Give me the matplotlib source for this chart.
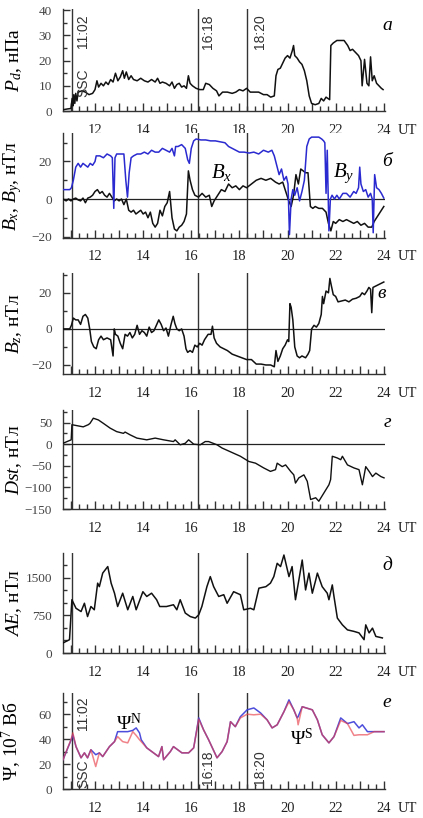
import matplotlib
matplotlib.use("Agg")
import matplotlib.pyplot as plt
from matplotlib.ticker import MultipleLocator, FuncFormatter
import matplotlib.transforms as mtransforms

plt.rcParams['font.family'] = ['Liberation Serif', 'DejaVu Serif']
plt.rcParams['mathtext.fontset'] = 'custom'
plt.rcParams['mathtext.rm'] = 'Liberation Serif'
plt.rcParams['mathtext.it'] = 'Liberation Serif:italic'

# ---------------- data (hours UT) ----------------
t_pd = [10.67, 10.85, 11.0, 11.05, 11.08, 11.12, 11.16, 11.2, 11.25, 11.3,
        11.45, 11.6, 11.75, 11.9, 12.0, 12.08, 12.15, 12.25, 12.35, 12.45,
        12.55, 12.65, 12.75, 12.85, 12.95, 13.05, 13.15, 13.22, 13.3, 13.4,
        13.5, 13.6, 13.75, 13.9, 14.05, 14.2, 14.35, 14.5, 14.6, 14.7,
        14.8, 14.95, 15.1, 15.2, 15.3, 15.4, 15.5, 15.6, 15.7, 15.8,
        15.88, 15.95, 16.05, 16.2, 16.35, 16.5, 16.6, 16.75, 16.9, 17.05,
        17.15, 17.3, 17.5, 17.7, 17.85, 18.0, 18.15, 18.3, 18.45, 18.6,
        18.8, 19.0, 19.15, 19.3, 19.45, 19.52, 19.6, 19.7, 19.8, 19.9,
        20.0, 20.1, 20.2, 20.25, 20.3, 20.4, 20.5, 20.6, 20.7, 20.8,
        20.9, 21.0, 21.15, 21.3, 21.4, 21.5, 21.6, 21.75, 21.8, 21.9,
        22.05, 22.2, 22.35, 22.5, 22.6, 22.7, 22.85, 22.95, 23.05, 23.1,
        23.2, 23.3, 23.38, 23.45, 23.52, 23.6, 23.7, 23.8, 23.9, 23.97]
v_pd = [0.5, 0.8, 1.0, 5.0, 2.0, 6.5, 3.0, 7.0, 4.0, 7.5,
        8.0, 7.5, 6.5, 7.0, 8.5, 12.0, 9.5, 11.0, 10.0, 11.5,
        10.5, 12.5, 11.5, 15.0, 12.0, 13.5, 16.0, 13.0, 15.5, 12.5,
        14.0, 12.5, 12.0, 13.0, 12.0, 11.5, 12.5, 11.5, 13.0, 11.0,
        11.5, 11.0, 10.0, 11.5, 9.0, 10.5, 11.0, 9.5, 10.0, 9.0,
        14.0, 11.0, 10.0, 9.0, 8.5, 8.5, 11.0, 10.5, 9.0, 8.0,
        6.0, 7.5, 7.5, 7.0, 7.5, 8.5, 8.0, 9.0, 7.5, 7.5,
        7.5, 6.5, 6.5, 5.5, 6.0, 14.0, 16.5, 17.0, 19.0, 21.0,
        22.0, 21.0, 24.0, 26.0, 22.0, 21.0, 19.5, 18.5, 16.0, 12.0,
        6.0, 3.0, 2.5, 3.0, 5.0, 4.0, 5.5, 4.5, 26.0, 27.0,
        28.0, 28.0, 28.0, 26.0, 24.0, 24.5, 23.0, 22.0, 20.0, 10.0,
        20.5, 11.0, 10.0, 21.5, 12.0, 14.0, 11.0, 10.0, 9.0, 8.5]

t_by = [10.67, 10.95, 11.02, 11.1, 11.2, 11.3, 11.4, 11.5, 11.6, 11.7,
        11.8, 11.9, 12.0, 12.05, 12.2, 12.35, 12.5, 12.65, 12.72, 12.78,
        12.83, 12.9, 13.0, 13.1, 13.2, 13.28, 13.35, 13.42, 13.5, 13.6,
        13.75, 13.9, 14.05, 14.2, 14.35, 14.5, 14.65, 14.8, 14.95, 15.1,
        15.2, 15.3, 15.35, 15.45, 15.6, 15.75, 15.85, 15.92, 16.0, 16.1,
        16.2, 16.4, 16.6, 16.8, 17.0, 17.2, 17.4, 17.55, 17.7, 17.85,
        18.0, 18.2, 18.4, 18.6, 18.8, 19.0, 19.2, 19.35, 19.45, 19.55,
        19.65, 19.75, 19.85, 19.95, 20.02, 20.08, 20.15, 20.22, 20.3, 20.4,
        20.5, 20.6, 20.7, 20.8, 20.9, 21.0, 21.15, 21.3, 21.42, 21.5,
        21.55, 21.6, 21.65, 21.72, 21.78, 21.85, 21.95, 22.05, 22.15, 22.3,
        22.45, 22.6, 22.75, 22.85, 22.95, 23.0, 23.05, 23.15, 23.25, 23.35,
        23.45, 23.52, 23.56, 23.62, 23.7, 23.8, 23.9, 24.0]
v_by = [5, 5, 6, 10, 17, 19, 17, 19, 18, 17,
        19, 18, 20, 23, 23, 22, 24, 23, 22, -5,
        22, 24, 24, 24, 24, 10, 1, 14, 22, 23,
        24, 24, 25, 24, 26, 25, 25, 27, 26, 25,
        27, 23, 28, 28, 29, 27, 21, 19, 27, 31,
        32, 31.5, 31.5, 31, 31, 30.5, 30, 28, 27, 26,
        25, 25, 24.5, 25, 24, 26, 25, 26, 23, 18,
        13, 16, 10, 12, 8, -19, 0, 5, 2, 6,
        -1, 4, 10, 28, 32, 33, 33, 33, 32, 31,
        30, 3, 26, -17, 0, 2, 0, 2, 0, 3,
        3, 1, 4, 3, 6, 17, 8, 4, 5, 1,
        3, 0, -18, 13, 6, 5, 3, 0.5]

t_bx = [10.67, 10.8, 10.9, 11.0, 11.1, 11.2, 11.3, 11.4, 11.5, 11.6,
        11.7, 11.8, 11.9, 12.0, 12.1, 12.2, 12.3, 12.4, 12.5, 12.6,
        12.7, 12.8, 12.9, 13.0, 13.1, 13.2, 13.3, 13.4, 13.5, 13.6,
        13.7, 13.8, 13.9, 14.0, 14.1, 14.2, 14.3, 14.4, 14.5, 14.6,
        14.7, 14.8, 14.9, 15.0, 15.1, 15.2, 15.3, 15.4, 15.5, 15.6,
        15.7, 15.8, 15.88, 15.95, 16.05, 16.15, 16.3, 16.45, 16.6, 16.75,
        16.85, 16.95, 17.1, 17.25, 17.4, 17.55, 17.7, 17.85, 18.0, 18.15,
        18.3, 18.5, 18.7, 18.9, 19.1, 19.3, 19.5, 19.65, 19.8, 19.95,
        20.05, 20.15, 20.25, 20.35, 20.45, 20.55, 20.65, 20.75, 20.85, 20.95,
        21.05, 21.15, 21.3, 21.45, 21.6, 21.7, 21.8, 21.9, 22.0, 22.15,
        22.3, 22.45, 22.6, 22.75, 22.9, 23.05, 23.2, 23.35, 23.5, 23.6,
        23.7, 23.8, 23.9, 24.0]
v_bx = [0, -1, 0, -1, 0, 0.5, -0.5, -1, 0.5, -2,
        0.5, 1, 2, 4, 5, 3, 4, 2, 1, 3,
        1, -1, 0, -1, 0, -3, 0, -6, -7, -6,
        -8, -7, -6, -8, -7, -10, -7, -13, -15, -13,
        -6, -9, -4, -2, 4, -10, -16, -17, -15, -14,
        -12, -8, 15, 10, 5, 2, 1, 3, 1, 2,
        -4, -1, 2, 5, 4, 8, 6, 7, 5, 7,
        6, 8, 10, 11, 10, 11, 9, 8, 9, 3,
        -1, -4, 2, 13, 8, 16, 15, 14, 14, -4,
        -5, -4, -5, -5, -7, -13, -17, -12, -13, -11,
        -12, -11, -12, -13, -12, -14, -13, -15, -15, -12,
        -10, -8, -6, -4]

t_bz = [10.67, 10.95, 11.02, 11.1, 11.2, 11.3, 11.4, 11.5, 11.6, 11.7,
        11.78, 11.85, 11.95, 12.05, 12.15, 12.25, 12.35, 12.5, 12.65, 12.75,
        12.8, 12.85, 12.95, 13.05, 13.15, 13.25, 13.35, 13.45, 13.55, 13.65,
        13.75, 13.85, 13.95, 14.05, 14.15, 14.25, 14.35, 14.45, 14.55, 14.65,
        14.75, 14.85, 14.95, 15.05, 15.15, 15.25, 15.32, 15.4, 15.5, 15.6,
        15.7, 15.78, 15.85, 15.95, 16.05, 16.15, 16.25, 16.35, 16.45, 16.55,
        16.7, 16.82, 16.88, 16.95, 17.05, 17.2, 17.35, 17.5, 17.7, 17.9,
        18.1, 18.3, 18.5, 18.7, 18.9, 19.1, 19.3, 19.45, 19.52, 19.6,
        19.7, 19.8, 19.9, 20.0, 20.05, 20.1, 20.15, 20.22, 20.3, 20.4,
        20.5, 20.6, 20.75, 20.85, 20.92, 21.0, 21.1, 21.2, 21.3, 21.4,
        21.45, 21.5, 21.6, 21.7, 21.76, 21.82, 21.9, 22.0, 22.1, 22.25,
        22.4, 22.55, 22.7, 22.85, 23.0, 23.1, 23.2, 23.3, 23.38, 23.45,
        23.5, 23.55, 23.7, 23.85, 24.0]
v_bz = [0, 0, 2, 6, 5, 5, 2.5, 7, 8, 6,
        0, -7, -10, -11, -6, -4, -6, -5, -6, -15,
        0, -3, -4, -8, -11, -3, -4, -2, -5, -3,
        2, -3, -1, -2, -4, 1, -2, -1, 2, 5,
        2.5, -1, 0.5, -4, 2, 7, 3, 0, -1, 0,
        -4, -11, -13, -12, -13, -9, -10, -8, -9, -6,
        -3, -3, 1.5, -5, -8, -10, -11, -12, -14, -15,
        -16, -17, -17, -19.5, -19.5, -20, -20, -21, -12, -18,
        -15, -11, -9, -6, -7, 14, 12, 5, -10, -15,
        -16, -15, -16, -14, -12, 0, 2, 1, 3, 8,
        18, 14, 21, 20, 28, 24, 19, 18, 15, 15.5,
        16, 15, 16.5, 17, 18, 20, 19, 21, 23, 22,
        9, 23, 24, 25, 26]

t_dst = [10.67, 11.01, 11.04, 11.51, 11.72, 11.79, 11.93, 12.14, 12.35, 12.63,
         12.90, 13.18, 13.25, 13.46, 13.74, 14.15, 14.5, 14.85, 15.26, 15.33,
         15.54, 15.75, 15.89, 16.1, 16.37, 16.58, 16.72, 17.07, 17.28, 17.76,
         18.04, 18.39, 18.67, 19.01, 19.29, 19.5, 19.57, 19.78, 19.92, 20.13,
         20.26, 20.33, 20.47, 20.68, 20.82, 20.96, 21.17, 21.3, 21.51, 21.72,
         21.79, 21.86, 22.07, 22.21, 22.28, 22.49, 22.76, 22.97, 23.11, 23.25,
         23.39, 23.53, 23.67, 23.88, 24.01]
v_dst = [2, 10, 45, 40, 45, 48, 60, 56, 48, 37,
         29, 25, 28, 21.5, 14, 10, 14, 10, 6, 10,
         -1.5, 2, 10, 0, -1.5, 6, 6, -1.5, -9, -21,
         -28, -40, -44, -55, -63, -59, -44, -52, -48, -63,
         -71, -90, -78, -71, -86, -128, -124, -132, -113, -94,
         -82, -28, -32, -36, -28, -48, -55, -59, -94, -52,
         -63, -75, -67, -75, -78]

t_ae = [10.67, 10.94, 11.04, 11.21, 11.42, 11.56, 11.69, 11.83, 11.97, 12.11,
        12.18, 12.32, 12.53, 12.67, 12.81, 12.94, 13.15, 13.36, 13.57, 13.71,
        13.99, 14.15, 14.35, 14.56, 14.69, 14.97, 15.26, 15.4, 15.54, 15.75,
        15.96, 16.17, 16.31, 16.44, 16.65, 16.79, 16.93, 17.14, 17.35, 17.49,
        17.76, 18.04, 18.18, 18.46, 18.6, 18.81, 19.1, 19.29, 19.43, 19.57,
        19.71, 19.85, 20.06, 20.19, 20.33, 20.47, 20.61, 20.75, 20.89, 21.03,
        21.17, 21.24, 21.44, 21.65, 21.72, 21.86, 21.93, 22.07, 22.28, 22.49,
        22.76, 22.97, 23.18, 23.25, 23.39, 23.53, 23.67, 23.94]
v_ae = [200, 265, 1060, 890, 825, 990, 725, 925, 860, 1390,
        1320, 1590, 1720, 1390, 1190, 925, 1190, 860, 1125, 860,
        1220, 1125, 1190, 1060, 925, 925, 960, 860, 1060, 795,
        725, 695, 760, 925, 1320, 1520, 1320, 1125, 1160, 990,
        1220, 1160, 860, 890, 860, 1290, 1320, 1390, 1520, 1785,
        1720, 1950, 1520, 1720, 1060, 1450, 1850, 1255, 1590, 1190,
        1450, 1590, 1320, 1190, 1060, 1355, 1125, 695, 560, 460,
        430, 400, 265, 560, 400, 495, 330, 300]

t_psi = [10.67, 11.01, 11.08, 11.21, 11.42, 11.56, 11.69, 11.83, 12.03, 12.18,
         12.32, 12.6, 12.81, 12.94, 13.15, 13.36, 13.57, 13.71, 13.85, 13.92,
         14.15, 14.43, 14.64, 14.78, 14.85, 15.13, 15.26, 15.61, 15.89, 16.1,
         16.31, 16.51, 16.72, 17.07, 17.28, 17.49, 17.63, 17.83, 18.04, 18.32,
         18.6, 18.88, 19.15, 19.36, 19.57, 19.85, 20.06, 20.26, 20.4, 20.44,
         20.61, 21.03, 21.24, 21.44, 21.72, 21.93, 22.21, 22.49, 22.76, 22.97,
         23.11, 23.32, 23.6, 24.01]
v_psi_n = [23.5, 39.5, 43.5, 34, 25, 29, 25, 31.5, 27.5, 29,
           26, 34, 38, 46, 46, 46, 47, 49, 45, 39.5,
           33, 29, 26, 34, 23.5, 30, 34, 29, 29, 33,
           57, 47.5, 39.5, 25, 30, 38, 54, 50, 58, 63.5,
           65, 61, 55.5, 49, 51.5, 62, 71.5, 63.5, 57, 58,
           66, 63.5, 55.5, 43.5, 37, 42, 57, 52.5, 54, 49,
           51.5, 46, 46, 46]
v_psi_s = [23.5, 40, 45, 34, 25, 29, 25, 31.5, 18, 29,
           26, 34, 38, 42, 38, 37, 46, 43, 39.5, 38,
           33, 29, 26, 34, 23.5, 30, 34, 29, 29, 33,
           56, 47.5, 39.5, 25, 30, 38, 54, 50, 57, 60,
           59.5, 60, 55.5, 49, 51.5, 62, 70, 63.5, 57, 51.5,
           66, 63.5, 55.5, 43.5, 37, 42, 55, 52.5, 43, 43.5,
           43.5, 43.5, 46, 46]

t_ssc = 11.03
t_1618 = 16.3
t_1820 = 18.33

# ---------------- layout ----------------
W, H = 423, 818
fig = plt.figure(figsize=(W / 100, H / 100), dpi=100)
left_px, right_px = 63, 385
panels_px = [(9, 111), (133, 238), (273, 374), (410, 509), (553, 653), (693, 789)]
axes = []
for top, bot in panels_px:
    ax = fig.add_axes([left_px / W, 1 - bot / H, (right_px - left_px) / W, (bot - top) / H])
    axes.append(ax)

XLIM = (10.67, 24.05)
sans = ['Liberation Sans', 'DejaVu Sans']


def style(ax, ymaj, ymin, ylim, ylabel, letter, letter_xy):
    ax.set_xlim(*XLIM)
    ax.set_ylim(*ylim)
    for s in ['top', 'right']:
        ax.spines[s].set_visible(False)
    for s in ['left', 'bottom']:
        ax.spines[s].set_color('#333333')
        ax.spines[s].set_linewidth(1.0)
    ax.xaxis.set_major_locator(MultipleLocator(1))
    ax.xaxis.set_minor_locator(MultipleLocator(1 / 3))
    ax.xaxis.set_major_formatter(FuncFormatter(lambda v, p: f"{int(round(v))}" if int(round(v)) % 2 == 0 else ""))
    ax.yaxis.set_major_locator(MultipleLocator(ymaj))
    ax.yaxis.set_minor_locator(MultipleLocator(ymin))
    ax.tick_params(axis='x', which='major', direction='in', length=6, width=1, pad=9,
                   labelsize=10.5, colors='#333333', labelcolor='#222222')
    ax.tick_params(axis='x', which='minor', direction='in', length=3.5, width=1, colors='#333333')
    ax.tick_params(axis='y', which='major', direction='in', length=5, width=1, pad=8,
                   labelsize=9.5, colors='#333333', labelcolor='#444444')
    ax.tick_params(axis='y', which='minor', direction='in', length=3, width=1, colors='#333333')
    ax.set_ylabel(ylabel, fontsize=14)
    ax.yaxis.set_label_coords(-0.12, 0.5)
    ax.annotate('UT', xy=(25.0, 0), xycoords=('data', 'axes fraction'),
                xytext=(0, -9), textcoords='offset points', ha='center', va='top',
                fontsize=10.5, color='#222222', annotation_clip=False)
    ax.text(letter_xy[0], letter_xy[1], letter, transform=ax.transAxes, fontsize=14,
            style='italic', ha='center', va='center')
    for tv in (t_ssc, t_1618, t_1820):
        ax.axvline(tv, color='#333333', lw=1.0, zorder=1)


def vtext(ax, x, y, s, va):
    tr = mtransforms.blended_transform_factory(ax.transData, ax.transAxes)
    ax.text(x, y, s, rotation=90, transform=tr, ha='left', va=va, fontsize=10,
            family=sans, color='#333333')


# a: P_d
ax = axes[0]
ax.plot(t_pd, v_pd, color='#111111', lw=1.1, zorder=3)
style(ax, 10, 5, (0, 40.5), '$P_d$, нПа', 'а', (1.006, 0.84))
vtext(ax, 11.22, 0.95, '11:02', 'top')
vtext(ax, 11.22, 0.14, 'SSC', 'bottom')
vtext(ax, 16.42, 0.95, '16:18', 'top')
vtext(ax, 18.55, 0.95, '18:20', 'top')

# b: Bx, By
ax = axes[1]
ax.axhline(0, color='#222222', lw=0.9, zorder=2)
ax.plot(t_bx, v_bx, color='#111111', lw=1.1, zorder=3)
ax.plot(t_by, v_by, color='#2a2ad0', lw=1.1, zorder=4)
style(ax, 20, 10, (-20.8, 35.2), '$B_x$, $B_y$, нТл', 'б', (1.006, 0.73))
ax.text(17.25, 13.9, '$B_x$', fontsize=15, ha='center', va='center')
ax.text(22.33, 13.9, '$B_y$', fontsize=15, ha='center', va='center')

# c: Bz
ax = axes[2]
ax.axhline(0, color='#222222', lw=0.9, zorder=2)
ax.plot(t_bz, v_bz, color='#111111', lw=1.1, zorder=3)
style(ax, 20, 10, (-25, 31), '$B_z$, нТл', 'в', (0.99, 0.80))

# d: Dst
ax = axes[3]
ax.axhline(0, color='#222222', lw=0.9, zorder=2)
ax.plot(t_dst, v_dst, color='#111111', lw=1.0, zorder=3)
style(ax, 50, 25, (-150, 79), '$Dst$, нТл', 'г', (1.006, 0.87))

# e: AE
ax = axes[4]
ax.plot(t_ae, v_ae, color='#111111', lw=1.1, zorder=3)
style(ax, 750, 250, (0, 1990), '$AE$, нТл', 'д', (1.006, 0.88))

# f: Psi
ax = axes[5]
ax.plot(t_psi, v_psi_n, color='#3a3ad8', lw=1.1, zorder=3, alpha=0.9)
ax.plot(t_psi, v_psi_s, color='#e8404a', lw=1.1, zorder=4, alpha=0.65)
style(ax, 20, 10, (0, 77), 'Ψ, 10$^7$ Вб', 'е', (1.006, 0.896))
vtext(ax, 11.22, 0.96, '11:02', 'top')
vtext(ax, 11.22, 0.01, 'SSC', 'bottom')
vtext(ax, 16.42, 0.04, '16:18', 'bottom')
vtext(ax, 18.55, 0.04, '18:20', 'bottom')
ax.text(13.42, 52.8, 'Ψ$^{\\rm N}$', fontsize=14, ha='center', va='center')
ax.text(20.58, 40.8, 'Ψ$^{\\rm S}$', fontsize=14, ha='center', va='center')

fig.savefig('out.png', dpi=100)
